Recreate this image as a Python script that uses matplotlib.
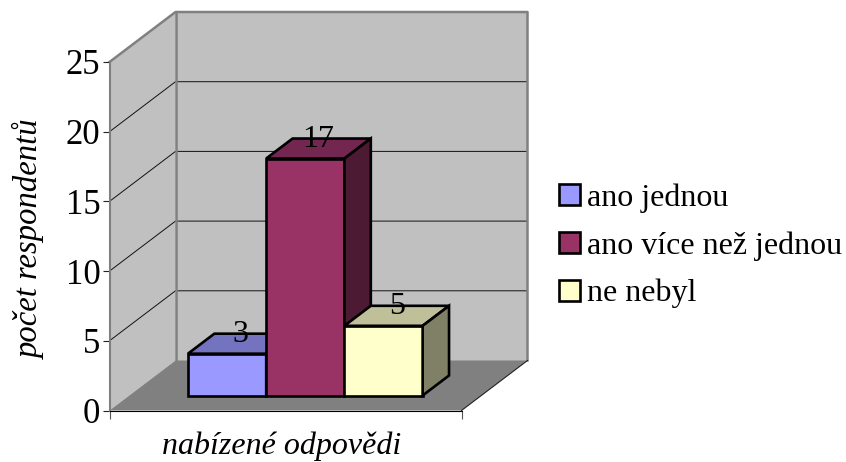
#!/usr/bin/env python3
"""3D-style column chart with oblique projection."""

import matplotlib

matplotlib.use("Agg")
import matplotlib.pyplot as plt
from matplotlib.patches import Polygon


categories = ["ano jednou", "ano více než jednou", "ne nebyl"]
values = [3, 17, 5]
y_ticks = [0, 5, 10, 15, 20, 25]
colors = ["#9999FF", "#993366", "#FFFFCC"]
top_colors = ["#7373BF", "#732650", "#BFBF99"]
side_colors = ["#4D4D80", "#4D1A33", "#808066"]

W, H = 846, 462
LEFT, RIGHT, TOP, BOTTOM = 109.5, 461.5, 62.0, 410.5
X_MAX = 4.5
Y_MAX = 25
DEPTH_X = 66 / ((RIGHT - LEFT) / X_MAX)
DEPTH_Y = 50 / ((BOTTOM - TOP) / Y_MAX)
FONT = 23
EDGE = 1.9

plt.rcParams["font.family"] = ["Liberation Serif", "DejaVu Serif"]
plt.rcParams["legend.handleheight"] = 0.65
plt.rcParams["patch.linewidth"] = EDGE

fig = plt.figure(figsize=(W / 100, H / 100), dpi=100)
ax = fig.add_axes([LEFT / W, 1 - BOTTOM / H, (RIGHT - LEFT) / W, (BOTTOM - TOP) / H])
ax.set_xlim(0, X_MAX)
ax.set_ylim(0, Y_MAX)
ax.patch.set_visible(False)


def proj(x, y, d):
    return x + d * DEPTH_X, y + d * DEPTH_Y


def face(points, **kwargs):
    ax.add_patch(Polygon(points, closed=True, clip_on=False, **kwargs))


# walls and floor
face([proj(0, 0, 0), proj(0, Y_MAX, 0), proj(0, Y_MAX, 1), proj(0, 0, 1)],
     facecolor="#C0C0C0", edgecolor="none", zorder=1)
face([proj(0, 0, 1), proj(0, Y_MAX, 1), proj(X_MAX, Y_MAX, 1), proj(X_MAX, 0, 1)],
     facecolor="#C0C0C0", edgecolor="none", zorder=1)
face([proj(0, 0, 0), proj(0, 0, 1), proj(X_MAX, 0, 1), proj(X_MAX, 0, 0)],
     facecolor="#808080", edgecolor="none", zorder=1.5)

for tick in y_ticks[1:-1]:
    xs, ys = zip(proj(0, tick, 0), proj(0, tick, 1), proj(X_MAX, tick, 1))
    ax.plot(xs, ys, color="#111111", linewidth=0.7, clip_on=False, zorder=1.2)

xs, ys = zip(proj(0, Y_MAX, 0), proj(0, Y_MAX, 1), proj(X_MAX, Y_MAX, 1), proj(X_MAX, 0, 1))
ax.plot(xs, ys, color="#808080", linewidth=1.8, clip_on=False, zorder=1.3)
xs, ys = zip(proj(0, 0, 1), proj(0, Y_MAX, 1))
ax.plot(xs, ys, color="#808080", linewidth=1.8, clip_on=False, zorder=1.3)
xs, ys = zip(proj(X_MAX, 0, 0), proj(X_MAX, 0, 1))
ax.plot(xs, ys, color="#222222", linewidth=0.8, clip_on=False, zorder=1.6)

# bars
bar_left = [0.75, 1.75, 2.75]
d_front, d_back = 0.3, 0.7
for i, (x0, val) in enumerate(zip(bar_left, values)):
    z = 3 + i
    x_f, y_f = proj(x0, 0, d_front)
    ax.bar(x_f, val, width=1, bottom=y_f, align="edge", color=colors[i],
           edgecolor="black", linewidth=EDGE, clip_on=False, zorder=z,
           label=categories[i])
    face([proj(x0, val, d_front), proj(x0, val, d_back),
          proj(x0 + 1, val, d_back), proj(x0 + 1, val, d_front)],
         facecolor=top_colors[i], edgecolor="black", linewidth=EDGE, zorder=z)
    face([proj(x0 + 1, 0, d_front), proj(x0 + 1, val, d_front),
          proj(x0 + 1, val, d_back), proj(x0 + 1, 0, d_back)],
         facecolor=side_colors[i], edgecolor="black", linewidth=EDGE, zorder=z)

for x0, val in zip(bar_left, values):
    tx, ty = proj(x0 + 0.5, val, 0.5)
    ax.annotate(str(val), (tx, ty), xytext=(0, 1), textcoords="offset points",
                ha="center", va="baseline", fontsize=FONT,
                color="black", zorder=10, annotation_clip=False)

# axes
ax.spines["top"].set_visible(False)
ax.spines["right"].set_visible(False)
ax.spines["left"].set_color("#808080")
ax.spines["left"].set_linewidth(1.5)
ax.spines["left"].set_zorder(2)
ax.spines["bottom"].set_color("black")
ax.spines["bottom"].set_linewidth(0.8)
ax.spines["bottom"].set_zorder(2)
ax.set_yticks(y_ticks)
ax.set_xticks([0, X_MAX])
ax.set_xticklabels([])
ax.tick_params(axis="y", length=5, width=0.8, color="#222222", labelsize=FONT + 2, pad=1.5)
ax.tick_params(axis="x", length=5.5, width=0.8, color="#555555")

fig.text(282 / W, 1 - 446 / H, "nabízené odpovědi", fontsize=FONT, style="italic",
         ha="center", va="center")
fig.text(30 / W, 1 - 239 / H, "počet respondentů", fontsize=FONT + 0.5, style="italic",
         rotation=90, ha="center", va="center")

ax.legend(loc="center left", bbox_to_anchor=(559 / W, 1 - 246 / H),
          bbox_transform=fig.transFigure, frameon=False, fontsize=FONT,
          handlelength=0.65, handletextpad=0.22,
          labelspacing=0.57, borderpad=0, borderaxespad=0)

fig.savefig("out.png", dpi=100)
plt.close(fig)
